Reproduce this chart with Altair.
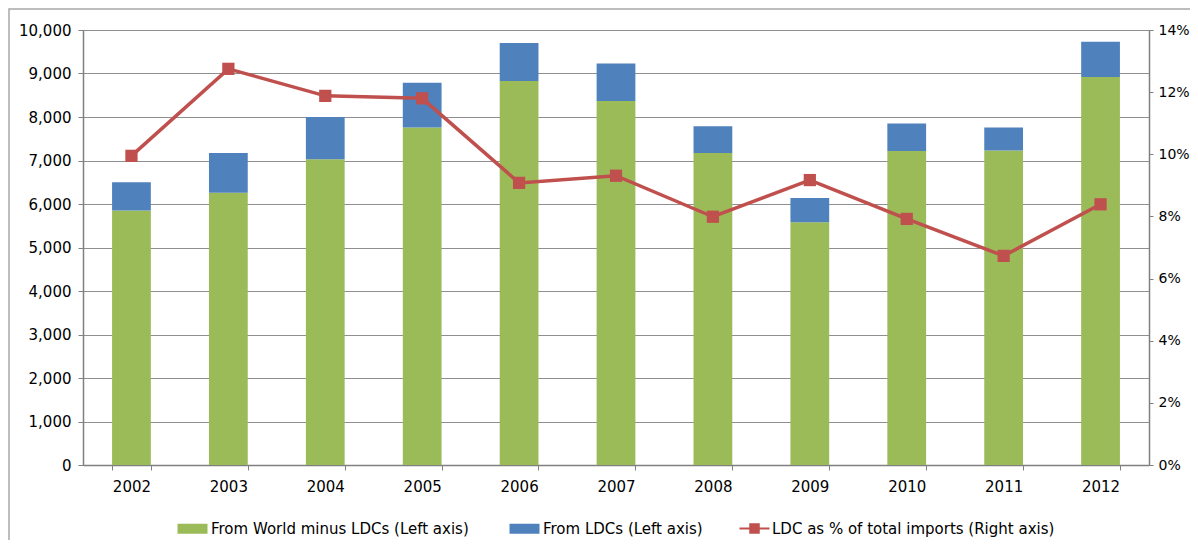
import altair as alt
import pandas as pd

years = ["2002", "2003", "2004", "2005", "2006", "2007", "2008", "2009", "2010", "2011", "2012"]
world_minus_ldcs = [5850, 6260, 7030, 7760, 8830, 8370, 7170, 5580, 7220, 7230, 8920]
from_ldcs = [650, 910, 970, 1030, 870, 860, 620, 560, 630, 530, 810]
ldc_share_pct = [9.95, 12.75, 11.88, 11.80, 9.08, 9.31, 7.99, 9.17, 7.92, 6.73, 8.39]

S_WORLD = "From World minus LDCs (Left axis)"
S_LDC = "From LDCs (Left axis)"
S_SHARE = "LDC as % of total imports (Right axis)"

GREEN = "#9BBB59"
BLUE = "#4F81BD"
RED = "#C0504D"
AXIS_GRAY = "#808080"
GRID_GRAY = "#8f8f8f"
FONT = "DejaVu Sans"

rows = []
for y, w, l in zip(years, world_minus_ldcs, from_ldcs):
    rows.append({"year": y, "series": S_WORLD, "value": w, "ord": 0})
    rows.append({"year": y, "series": S_LDC, "value": l, "ord": 1})
bars_df = pd.DataFrame(rows)
line_df = pd.DataFrame({
    "year": years,
    "share": [p / 100 for p in ldc_share_pct],
    "series": [S_SHARE] * len(years),
})

x_enc = alt.X(
    "year:N",
    title=None,
    sort=years,
    scale=alt.Scale(paddingInner=0.6, paddingOuter=0.3),
    axis=alt.Axis(
        labelAngle=0, tickBand="extent", tickSize=5, labelPadding=9,
        domainColor=AXIS_GRAY, tickColor=AXIS_GRAY, domainWidth=1.5, grid=False,
        labelFontSize=15, labelColor="#000000", labelFont=FONT,
    ),
)

bars = alt.Chart(bars_df).mark_bar().encode(
    x=x_enc,
    y=alt.Y(
        "value:Q", stack="zero", title=None,
        scale=alt.Scale(domain=[0, 10000], nice=False),
        axis=alt.Axis(
            values=list(range(0, 10001, 1000)), format=",.0f", tickSize=5, labelPadding=7,
            domainColor=AXIS_GRAY, tickColor=AXIS_GRAY, domainWidth=1.5,
            grid=True, gridColor=GRID_GRAY,
            labelFontSize=15, labelColor="#000000", labelFont=FONT,
        ),
    ),
    color=alt.Color(
        "series:N",
        scale=alt.Scale(domain=[S_WORLD, S_LDC], range=[GREEN, BLUE]),
        legend=alt.Legend(
            title=None, orient="none", legendX=102, legendY=491, direction="horizontal",
            symbolType="M-3,-1H3V1H-3Z", symbolSize=100, symbolStrokeWidth=0,
            labelOffset=11, columnPadding=40, padding=0, labelLimit=500,
            labelFontSize=15, labelFont=FONT, labelColor="#000000",
        ),
    ),
    order=alt.Order("ord:Q"),
)

y_right = alt.Y(
    "share:Q", title=None,
    scale=alt.Scale(domain=[0, 0.14], nice=False),
    axis=alt.Axis(
        orient="right", values=[0, 0.02, 0.04, 0.06, 0.08, 0.10, 0.12, 0.14], format=".0%",
        tickSize=4, labelPadding=5, grid=False,
        domainColor=AXIS_GRAY, tickColor=AXIS_GRAY, domainWidth=1.5,
        labelFontSize=14, labelColor="#000000", labelFont=FONT,
    ),
)

line = alt.Chart(line_df).mark_line(color=RED, strokeWidth=3.5).encode(x=x_enc, y=y_right)
points = alt.Chart(line_df).mark_square(size=150, opacity=1).encode(
    x=x_enc,
    y=y_right,
    color=alt.Color(
        "series:N",
        scale=alt.Scale(domain=[S_SHARE], range=[RED]),
        legend=alt.Legend(
            title=None, orient="none", legendX=664, legendY=491, direction="horizontal",
            symbolType="M-3,-0.18H3V0.18H-3Z M-1.05,-1.05H1.05V1.05H-1.05Z", symbolSize=100,
            symbolStrokeWidth=0, symbolOpacity=1,
            labelOffset=10, padding=0, labelLimit=500,
            labelFontSize=15, labelFont=FONT, labelColor="#000000",
        ),
    ),
)

border_df = pd.DataFrame({"k": [0]})
border = alt.Chart(border_df).mark_rect(fill=None, stroke="#a8a8a8", strokeWidth=1.5).encode(
    x=alt.value(-74), x2=alt.value(1300), y=alt.value(-21), y2=alt.value(700)
)

right = alt.layer(line, points)

chart = alt.layer(border, bars, right).resolve_scale(
    y="independent", color="independent"
).properties(
    width=1066, height=435,
    autosize=alt.AutoSizeParams(type="none"),
    padding={"left": 75, "top": 22, "right": 41, "bottom": 75},
).configure_view(stroke=None).configure(background="white")

chart.save("out.html", embed_options={"renderer": "svg", "actions": False})
